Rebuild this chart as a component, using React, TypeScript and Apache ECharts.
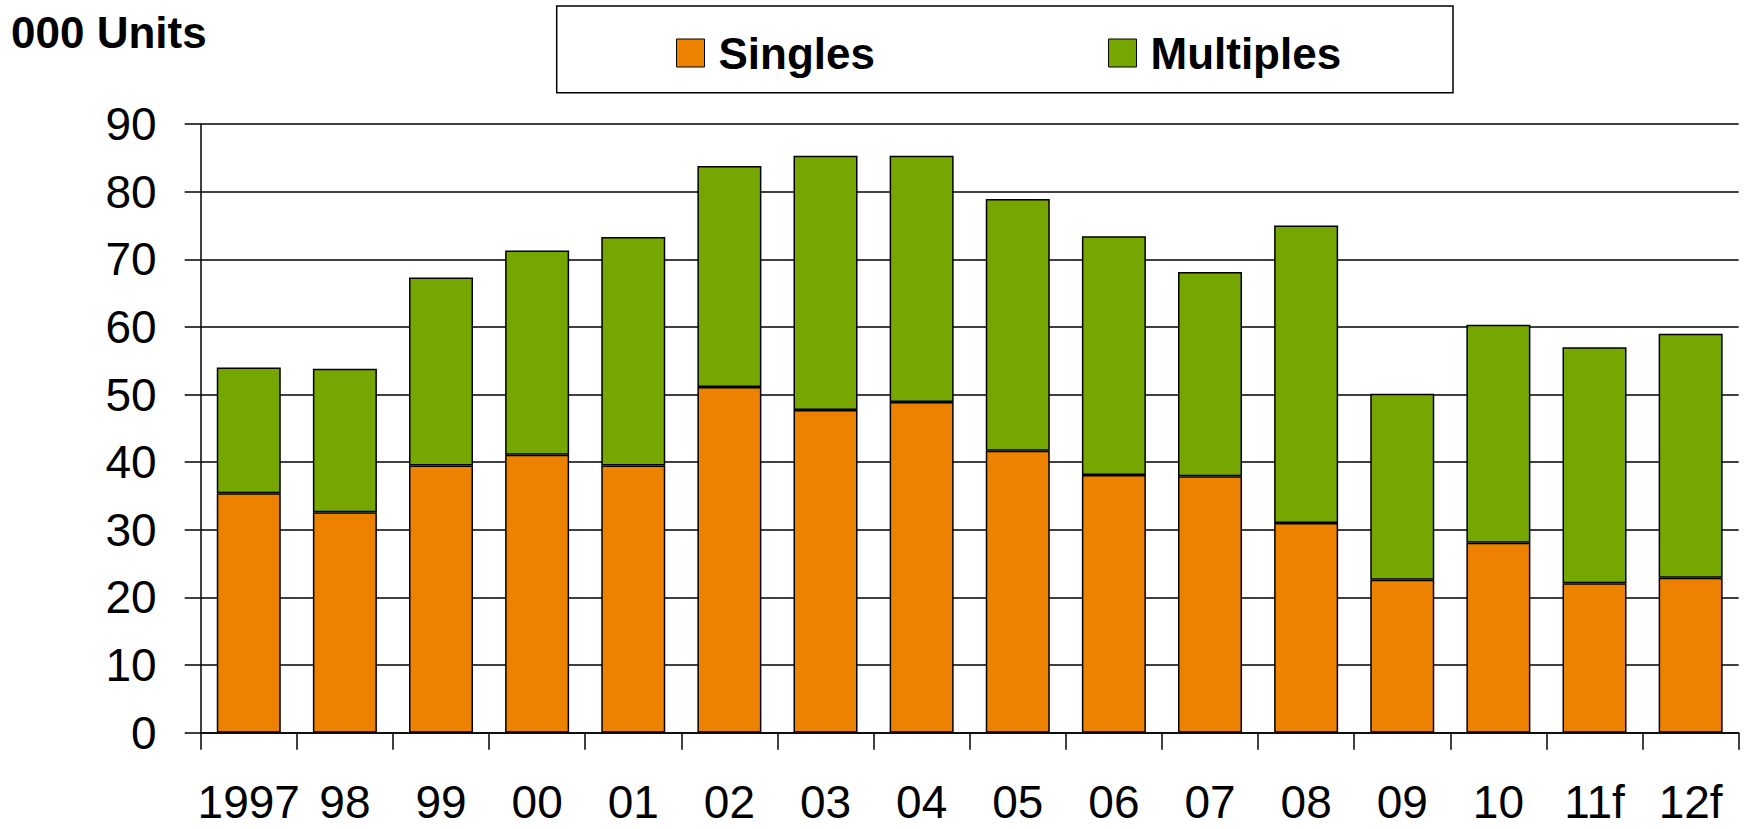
import React, { useEffect, useRef } from "react";
import * as echarts from "echarts";

// Years on the category axis
const years = ["1997", "98", "99", "00", "01", "02", "03", "04", "05", "06", "07", "08", "09", "10", "11f", "12f"];

// Unit sales, thousands
const singles = [35.4, 32.6, 39.5, 41.1, 39.5, 51.1, 47.7, 48.9, 41.7, 38.1, 37.9, 31.0, 22.6, 28.1, 22.1, 22.9];
const multiples = [18.6, 21.2, 27.8, 30.2, 33.8, 32.7, 37.6, 36.4, 37.2, 35.3, 30.2, 44.0, 27.5, 32.2, 34.9, 36.1];

const yTicks = { min: 0, max: 90, interval: 10 };

const FONT = "'Liberation Sans', Arial, Helvetica, sans-serif";
const ORANGE = "#ED8200";
const GREEN = "#76A600";

export default function App() {
  const ref = useRef<HTMLDivElement>(null);

  useEffect(() => {
    if (!ref.current) return;
    const chart = echarts.init(ref.current, null, { renderer: "svg" });

    const barStyle = (color: string) => ({
      color,
      borderColor: "#000",
      borderWidth: 1.5,
    });

    chart.setOption({
      animation: false,
      backgroundColor: "#fff",
      textStyle: { fontFamily: FONT },
      grid: { left: 200.7, right: 5.3, top: 124, bottom: 96.3, containLabel: false },
      graphic: [
        {
          type: "text",
          left: 11,
          top: 10,
          style: {
            text: "000 Units",
            font: `bold 44px ${FONT}`,
            fill: "#000",
          },
        },
        {
          type: "rect",
          shape: { x: 556.7, y: 6, width: 896.3, height: 86.7 },
          style: { fill: "#fff", stroke: "#000", lineWidth: 1.5 },
          z: -1,
        },
      ],
      legend: {
        left: 676,
        top: 31,
        padding: 0,
        itemWidth: 28,
        itemHeight: 28,
        itemGap: 233,
        icon: "rect",
        itemStyle: { borderColor: "#000", borderWidth: 1 },
        textStyle: {
          fontFamily: FONT,
          fontSize: 44,
          fontWeight: "bold",
          color: "#000",
          padding: [0, 0, 0, 9],
        },
        data: ["Singles", "Multiples"],
      },
      xAxis: {
        type: "category",
        data: years,
        boundaryGap: true,
        axisLine: { show: true, lineStyle: { color: "#000", width: 1.5 } },
        axisTick: { show: true, interval: 0, length: 17, lineStyle: { color: "#000", width: 1.5 } },
        axisLabel: {
          interval: 0,
          margin: 46,
          fontSize: 46,
          color: "#000",
          fontFamily: FONT,
        },
        splitLine: { show: false },
      },
      yAxis: {
        type: "value",
        min: yTicks.min,
        max: yTicks.max,
        interval: yTicks.interval,
        axisLine: { show: true, lineStyle: { color: "#000", width: 1.5 } },
        axisTick: { show: true, length: 16, lineStyle: { color: "#000", width: 1.5 } },
        axisLabel: { margin: 44, fontSize: 46, color: "#000", fontFamily: FONT },
        splitLine: { show: true, lineStyle: { color: "#000", width: 1.5 } },
      },
      series: [
        {
          name: "Singles",
          type: "bar",
          stack: "units",
          barWidth: 64,
          data: singles,
          itemStyle: barStyle(ORANGE),
        },
        {
          name: "Multiples",
          type: "bar",
          stack: "units",
          barWidth: 64,
          data: multiples,
          itemStyle: barStyle(GREEN),
        },
      ],
    });

    return () => chart.dispose();
  }, []);

  return (
    <div
      ref={ref}
      style={{ position: "fixed", left: 0, top: 0, width: 1744, height: 829, background: "#fff" }}
    />
  );
}
